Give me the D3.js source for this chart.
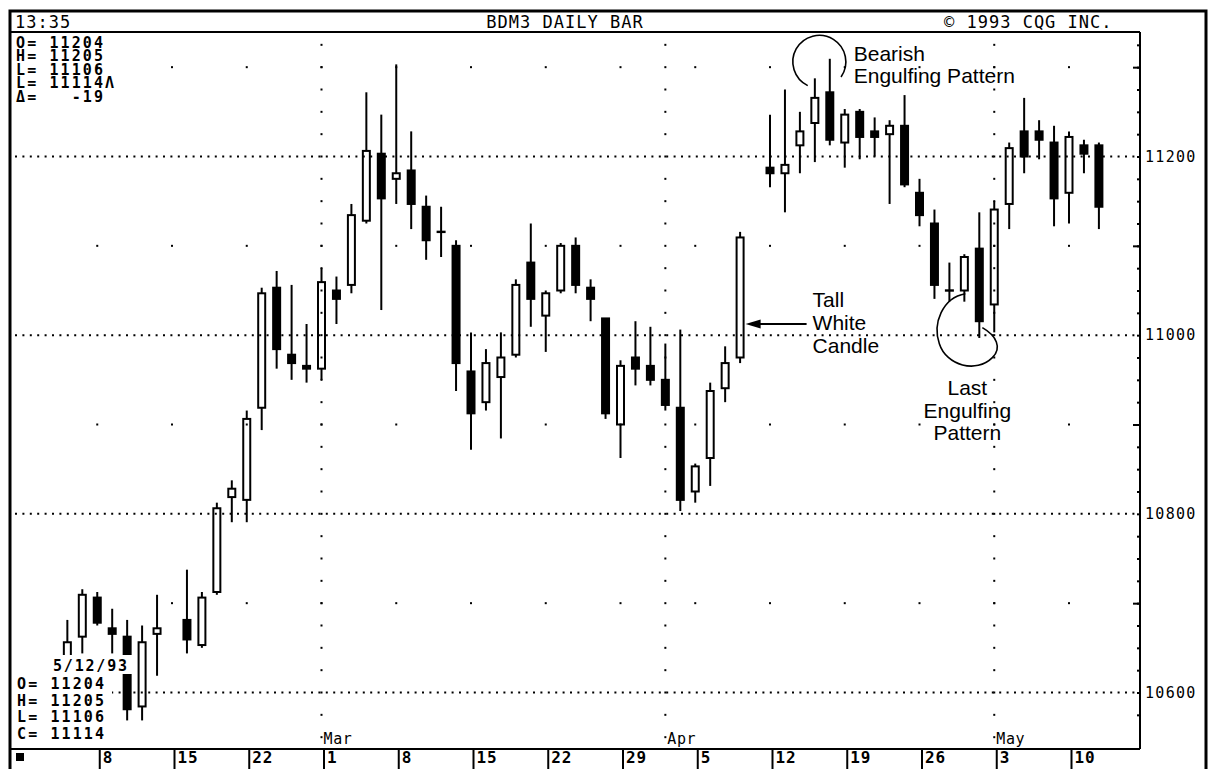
<!DOCTYPE html>
<html>
<head>
<meta charset="utf-8">
<script src="https://cdn.jsdelivr.net/npm/d3@7"></script>
<style>
  body { margin: 0; background: #fff; }
  .mono { font-family: "DejaVu Sans Mono", "Liberation Mono", monospace; fill: #000; }
  .note { font-family: "Liberation Sans", Arial, sans-serif; fill: #000; }
</style>
</head>
<body>
<svg id="chart" width="1217" height="769"></svg>
<script>
// Daily bars, June 1993 T-bond futures. Prices are quoted in points and 32nds (11204 = 112-04).
const dates = [
  "1993-02-04","1993-02-05","1993-02-08","1993-02-09","1993-02-10","1993-02-11","1993-02-12",
  "1993-02-16","1993-02-17","1993-02-18","1993-02-19","1993-02-22","1993-02-23","1993-02-24",
  "1993-02-25","1993-02-26","1993-03-01","1993-03-02","1993-03-03","1993-03-04","1993-03-05",
  "1993-03-08","1993-03-09","1993-03-10","1993-03-11","1993-03-12","1993-03-15","1993-03-16",
  "1993-03-17","1993-03-18","1993-03-19","1993-03-22","1993-03-23","1993-03-24","1993-03-25",
  "1993-03-26","1993-03-29","1993-03-30","1993-03-31","1993-04-01","1993-04-02","1993-04-05",
  "1993-04-06","1993-04-07","1993-04-08","1993-04-12","1993-04-13","1993-04-14","1993-04-15",
  "1993-04-16","1993-04-19","1993-04-20","1993-04-21","1993-04-22","1993-04-23","1993-04-26",
  "1993-04-27","1993-04-28","1993-04-29","1993-04-30","1993-05-03","1993-05-04","1993-05-05",
  "1993-05-06","1993-05-07","1993-05-10","1993-05-11","1993-05-12"
];
const opens = [
  10611,10620,10702,10623,10620,10527,10621,
  10626,10617,10704,10806,10805,10906,11017,
  10925,10921,10920,11016,11018,11109,11201,
  11124,11127,11114,11105,11100,10919,10908,
  10917,10925,11026,11007,11016,11100,11017,
  11006,10900,10924,10921,10916,10906,10808,
  10820,10913,10924,11128,11126,11204,11212,
  11223,11205,11216,11209,11208,11211,11119,
  11108,11016,11016,11031,11011,11115,11209,
  11209,11205,11119,11204,11204
];
const highs = [
  10626,10705,10704,10630,10626,10624,10703,
  10712,10704,10804,10812,10905,11017,11023,
  11018,11004,11024,11021,11115,11223,11215,
  11301,11209,11118,11114,11102,11001,10927,
  11001,11020,11108,11016,11101,11103,11020,
  11006,10923,11005,11003,10929,11002,10818,
  10915,10928,11105,11215,11224,11216,11228,
  11303,11217,11217,11214,11213,11222,11124,
  11113,11026,11029,11112,11116,11205,11221,
  11213,11211,11209,11206,11205
];
const lows = [
  10608,10614,10624,10614,10522,10522,10606,
  10614,10616,10703,10729,10729,10830,10920,
  10916,10915,10916,11004,11015,11108,11009,
  11115,11106,11027,11028,10912,10823,10905,
  10827,10924,11003,10926,11015,11015,11005,
  10902,10820,10914,10914,10905,10801,10804,
  10810,10908,10922,11121,11112,11126,11130,
  11204,11128,11131,11200,11115,11121,11107,
  11013,11012,11012,10931,11001,11106,11126,
  11131,11107,11108,11126,11106
];
const closes = [
  10618,10703,10625,10621,10526,10618,10623,
  10619,10702,10802,10809,10902,11015,10927,
  10922,10920,11019,11013,11111,11202,11117,
  11126,11115,11102,11105,10922,10904,10922,
  10924,11018,11013,11015,11100,11018,11013,
  10904,10921,10920,10916,10907,10805,10817,
  10912,10922,11103,11126,11129,11209,11221,
  11206,11215,11207,11207,11211,11122,11111,
  11018,11016,11028,11005,11113,11203,11200,
  11206,11117,11207,11201,11114
];

// Axis labels
const weekLabels = ["8","15","22","1","8","15","22","29","5","12","19","26","3","10"];
const monthLabels = ["Mar","Apr","May"];
const monthStarts = ["1993-03-01","1993-04-01","1993-05-03"];
const priceLabels = [11200, 11000, 10800, 10600];
const oddLevels = [11300, 11100, 10900, 10700];

// Header texts
const clockText = "13:35";
const titleText = "BDM3 DAILY BAR";
const creditText = "\u00a9 1993 CQG INC.";
const lastDateText = "5/12/93";

// 32nds quote helpers
const qToPts = q => Math.floor(q / 100) + (q % 100) / 32;
const qTo32 = q => Math.floor(q / 100) * 32 + (q % 100);

// Weekday position counted from Monday 1 Feb 1993
const base = Date.UTC(1993, 1, 1);
function dayIndex(s) {
  const d = Date.parse(s + "T00:00:00Z");
  const days = Math.round((d - base) / 864e5);
  return Math.floor(days / 7) * 5 + (days % 7);
}

const bars = dates.map((d, i) => ({
  i: dayIndex(d), o: qToPts(opens[i]), h: qToPts(highs[i]), l: qToPts(lows[i]), c: qToPts(closes[i])
}));

const svg = d3.select("#chart");
const PL = 12, PR = 1140, PT = 32, PB = 749;

const x = d3.scaleLinear().domain([0, 72]).range([22.5, 22.5 + 72 * 14.95]);
const y = d3.scaleLinear().domain([106, 112]).range([692.5, 156.5]);

// ---- grid ----
const grid = svg.append("g");
// dotted rows at even points
grid.selectAll("line.row").data(priceLabels.map(qToPts)).join("line")
  .attr("x1", PL + 3).attr("x2", PR - 2)
  .attr("y1", d => y(d)).attr("y2", d => y(d))
  .attr("stroke", "#000").attr("stroke-width", 2).attr("stroke-dasharray", "2 5.4");

// weekly dots on odd-point rows
const weekIdx = d3.range(1, 15).map(w => w * 5);
const oddDots = [];
oddLevels.map(qToPts).forEach(p => weekIdx.forEach(i => oddDots.push([i, p])));
grid.selectAll("rect.odd").data(oddDots).join("rect")
  .attr("x", d => x(d[0]) - 1).attr("y", d => y(d[1]) - 1)
  .attr("width", 2).attr("height", 2).attr("fill", "#000");

// month columns: a dot every quarter point
const quarterLevels = d3.range(105.5, 113.3, 0.25);
const monthIdx = monthStarts.map(dayIndex);
const colDots = [];
monthIdx.forEach(i => quarterLevels.forEach(p => colDots.push([i, p])));
grid.selectAll("rect.col").data(colDots).join("rect")
  .attr("x", d => x(d[0]) - 1).attr("y", d => y(d[1]) - 1)
  .attr("width", 2).attr("height", 2).attr("fill", "#000");

// ---- candles ----
const cg = svg.append("g");
const half = 4.5;
bars.forEach(b => {
  const cx = x(b.i);
  const top = Math.max(b.o, b.c), bot = Math.min(b.o, b.c);
  // upper and lower shadows, leaving the body hollow
  cg.append("line").attr("x1", cx).attr("x2", cx)
    .attr("y1", y(b.h)).attr("y2", y(top))
    .attr("stroke", "#000").attr("stroke-width", 2);
  cg.append("line").attr("x1", cx).attr("x2", cx)
    .attr("y1", y(bot)).attr("y2", y(b.l))
    .attr("stroke", "#000").attr("stroke-width", 2);
  if (b.c === b.o) {
    cg.append("rect").attr("x", cx - half).attr("y", y(b.c) - 1.2)
      .attr("width", half * 2).attr("height", 2.4).attr("fill", "#000");
  } else if (b.c > b.o) {
    cg.append("rect").attr("x", cx - half + 1).attr("y", y(b.c))
      .attr("width", half * 2 - 2).attr("height", Math.max(1, y(b.o) - y(b.c)))
      .attr("fill", "none").attr("stroke", "#000").attr("stroke-width", 2);
  } else {
    cg.append("rect").attr("x", cx - half).attr("y", y(b.o) - 1)
      .attr("width", half * 2).attr("height", Math.max(2, y(b.c) - y(b.o) + 2))
      .attr("fill", "#000");
  }
});

// ---- frame ----
const frame = svg.append("g").attr("fill", "none").attr("stroke", "#000");
frame.append("path").attr("d", "M10,769V11H1206V769").attr("stroke-width", 3);
frame.append("path").attr("d", `M10,${PT}H${PR}`).attr("stroke-width", 2);
frame.append("path").attr("d", `M${PR},${PT}V${PB}`).attr("stroke-width", 2);
frame.append("path").attr("d", `M10,${PB}H${PR}`).attr("stroke-width", 2);

// ---- right price axis ----
const axisG = svg.append("g").attr("transform", `translate(${PR},0)`);
axisG.append("g").call(d3.axisRight(y).tickValues(quarterLevels.filter(p => p > 105.6))
  .tickSize(-3).tickFormat("")).call(g => g.select(".domain").remove());
axisG.append("g").call(d3.axisRight(y).tickValues(oddLevels.map(qToPts))
  .tickSize(-7).tickFormat("")).call(g => g.select(".domain").remove());
axisG.append("g").call(d3.axisRight(y).tickValues(priceLabels.map(qToPts))
  .tickSize(0).tickPadding(5).tickFormat(p => String(Math.round(p * 100))))
  .call(g => g.select(".domain").remove())
  .call(g => g.selectAll("text").attr("class", "mono")
    .style("font-size", "15px").style("letter-spacing", "1.3px").attr("font-family", null));
axisG.selectAll("line").attr("stroke", "#000").attr("stroke-width", 2);

// ---- bottom date axis ----
const dateAxis = svg.append("g").attr("transform", `translate(2,${PB})`)
  .call(d3.axisBottom(x).tickValues(weekIdx).tickSize(20)
    .tickFormat((d, i) => weekLabels[i]))
  .call(g => g.select(".domain").remove());
dateAxis.selectAll("line").attr("stroke", "#000").attr("stroke-width", 2);
dateAxis.selectAll("text").attr("class", "mono").attr("font-family", null)
  .attr("text-anchor", "start").attr("x", 3).attr("y", 3).attr("dy", "0.71em")
  .style("font-size", "16px").style("letter-spacing", "0.8px").style("font-weight", "bold");
svg.append("rect").attr("x", 16).attr("y", 753).attr("width", 8).attr("height", 8).attr("fill", "#000");

// month names sit right after the last dot of each month column
svg.selectAll("text.month").data(monthLabels).join("text")
  .attr("class", "mono").attr("x", (d, i) => x(monthIdx[i]) + 2).attr("y", 744)
  .style("font-size", "15px").style("letter-spacing", "0.6px").text(d => d);

// ---- header ----
const hdr = svg.append("g").attr("class", "mono").style("font-size", "17px").style("letter-spacing", "1px");
hdr.append("text").attr("x", 15).attr("y", 28).text(clockText);
hdr.append("text").attr("x", 565).attr("y", 28).attr("text-anchor", "middle").text(titleText);
hdr.append("text").attr("x", 944).attr("y", 28).text(creditText);

// ---- quote readouts ----
const last = bars.length - 1;
const chg = qTo32(closes[last]) - qTo32(closes[last - 1]);
const topInfo = [
  `O= ${opens[last]}`, `H= ${highs[last]}`, `L= ${lows[last]}`,
  `L= ${closes[last]}\u039b`, `\u0394=${String(chg).padStart(6, "\u00a0")}`
];
svg.append("text").attr("class", "mono").attr("y", 48)
  .style("font-size", "15px").style("letter-spacing", "2.1px").style("font-weight", "bold")
  .selectAll("tspan").data(topInfo).join("tspan")
  .attr("x", 16).attr("dy", (d, i) => i ? 13.4 : 0).text(d => d);

const botInfo = [`O= ${opens[last]}`, `H= ${highs[last]}`, `L= ${lows[last]}`, `C= ${closes[last]}`];
const bi = svg.append("g");
bi.append("rect").attr("x", 52).attr("y", 655).attr("width", 82).attr("height", 19).attr("fill", "#fff");
bi.append("rect").attr("x", 14).attr("y", 676).attr("width", 98).attr("height", 71).attr("fill", "#fff");
bi.append("text").attr("class", "mono").attr("x", 53).attr("y", 671)
  .style("font-size", "15px").style("letter-spacing", "1.8px").style("font-weight", "bold").text(lastDateText);
bi.append("text").attr("class", "mono").attr("y", 689)
  .style("font-size", "15px").style("letter-spacing", "2.1px").style("font-weight", "bold")
  .selectAll("tspan").data(botInfo).join("tspan")
  .attr("x", 17).attr("dy", (d, i) => i ? 16.5 : 0).text(d => d);

// ---- annotations ----
const notes = svg.append("g");
// Bearish engulfing: open circle over the 15/16 April pair
const bx = x(53.3), by = y(113.06);
const arcPath = d3.path();
arcPath.arc(bx, by, 26.5, 116 * Math.PI / 180, 395 * Math.PI / 180, false);
notes.append("path").attr("d", arcPath.toString()).attr("fill", "none").attr("stroke", "#000").attr("stroke-width", 1.6);
notes.append("text").attr("class", "note").attr("x", x(55.6)).attr("y", y(113.07))
  .style("font-size", "21px").text("Bearish");
notes.append("text").attr("class", "note").attr("x", x(55.6)).attr("y", y(112.82))
  .style("font-size", "21px").text("Engulfing Pattern");

// Tall white candle on 8 April
const tip = x(dayIndex("1993-04-08")) + 5.5, ay = y(qToPts(11004));
notes.append("line").attr("x1", tip + 14).attr("x2", tip + 61).attr("y1", ay).attr("y2", ay)
  .attr("stroke", "#000").attr("stroke-width", 2);
notes.append("path").attr("d", `M${tip},${ay}L${tip + 15},${ay - 4.5}L${tip + 15},${ay + 4.5}Z`).attr("fill", "#000");
notes.append("text").attr("class", "note").attr("y", y(110.315)).style("font-size", "21px")
  .selectAll("tspan").data(["Tall", "White", "Candle"]).join("tspan")
  .attr("x", tip + 67).attr("dy", (d, k) => k ? 23 : 0).text(d => d);

// Last engulfing pattern: loop under the 29/30 April pair
const lx = x(dayIndex("1993-04-29")), ly = y(qToPts(11012));
const loop = d3.path();
loop.moveTo(lx + 1, ly - 8);
loop.bezierCurveTo(lx - 22, ly - 4, lx - 32, ly + 22, lx - 25, ly + 42);
loop.bezierCurveTo(lx - 18, ly + 64, lx + 12, ly + 72, lx + 28, ly + 56);
loop.bezierCurveTo(lx + 38, ly + 46, lx + 32, ly + 34, lx + 18, ly + 26);
notes.append("path").attr("d", loop.toString()).attr("fill", "none").attr("stroke", "#000").attr("stroke-width", 1.6);
notes.append("text").attr("class", "note").attr("y", y(109.33)).attr("text-anchor", "middle")
  .style("font-size", "21px")
  .selectAll("tspan").data(["Last", "Engulfing", "Pattern"]).join("tspan")
  .attr("x", x(63.2)).attr("dy", (d, k) => k ? 22.5 : 0).text(d => d);
</script>
</body>
</html>
